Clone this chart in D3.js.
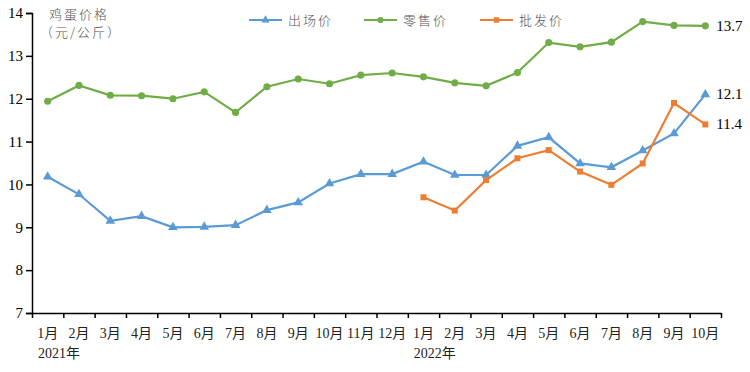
<!DOCTYPE html>
<html>
<head>
<meta charset="utf-8">
<script src="https://cdn.jsdelivr.net/npm/d3@7"></script>
<style>
  body { margin: 0; background: #fff; }
  .axis path, .axis line { stroke: #000; stroke-width: 1.5px; }
  .axis text { font-family: "Liberation Serif", "Noto Sans CJK SC", serif; font-size: 15px; fill: #000; }
  .month { font-family: "Liberation Serif", "Noto Sans CJK SC", serif; font-size: 14px; fill: #222; }
  .cjk { font-family: "Noto Sans CJK SC", sans-serif; font-size: 13px; font-weight: 300; fill: #555; letter-spacing: 2px; }
  .endlab { font-family: "Liberation Serif", serif; font-size: 15px; fill: #000; }
</style>
</head>
<body>
<div id="chart"></div>
<script>
// frame size and margins
const FRAME_WIDTH = 750;
const FRAME_HEIGHT = 372;
const MARGINS = {left: 32, right: 29, top: 13, bottom: 59};

// month labels, Jan 2021 .. Oct 2022
const months = ["1月","2月","3月","4月","5月","6月","7月","8月","9月","10月","11月","12月",
                "1月","2月","3月","4月","5月","6月","7月","8月","9月","10月"];
const years = [{label: "2021年", idx: 0}, {label: "2022年", idx: 12}];

// series values (元/公斤)
const chuchang = [10.18, 9.77, 9.15, 9.26, 9.0, 9.01, 9.05, 9.4, 9.58, 10.02, 10.24, 10.24,
                  10.53, 10.22, 10.22, 10.9, 11.1, 10.49, 10.4, 10.79, 11.19, 12.1];
const lingshou = [11.94, 12.31, 12.08, 12.07, 12.0, 12.16, 11.68, 12.28, 12.46, 12.35, 12.55, 12.6,
                  12.51, 12.37, 12.3, 12.61, 13.31, 13.21, 13.32, 13.8, 13.71, 13.7];
// wholesale starts Jan 2022
const pifa = [null, null, null, null, null, null, null, null, null, null, null, null,
              9.7, 9.39, 10.1, 10.61, 10.8, 10.3, 9.99, 10.49, 11.9, 11.4];
const yTicks = [7, 8, 9, 10, 11, 12, 13, 14];

const VIS_WIDTH = FRAME_WIDTH - MARGINS.left - MARGINS.right;
const VIS_HEIGHT = FRAME_HEIGHT - MARGINS.top - MARGINS.bottom;

const svg = d3.select("#chart").append("svg")
  .attr("width", FRAME_WIDTH)
  .attr("height", FRAME_HEIGHT);

// scales
const X_BAND = d3.scaleBand().domain(d3.range(months.length)).range([MARGINS.left, MARGINS.left + VIS_WIDTH]);
const X_EDGE = d3.scaleLinear().domain([0, months.length]).range([MARGINS.left, MARGINS.left + VIS_WIDTH]);
const Y_SCALE = d3.scaleLinear().domain([7, 14]).range([MARGINS.top + VIS_HEIGHT, MARGINS.top]);
const cx = (i) => X_BAND(i) + X_BAND.bandwidth() / 2;

// y axis
svg.append("g")
  .attr("class", "axis")
  .attr("transform", "translate(" + MARGINS.left + ",0)")
  .call(d3.axisLeft(Y_SCALE).tickValues(yTicks).tickFormat(d3.format("d")).tickSizeOuter(0).tickSize(6));

// x axis, ticks at month boundaries
svg.append("g")
  .attr("class", "axis")
  .attr("transform", "translate(0," + (MARGINS.top + VIS_HEIGHT) + ")")
  .call(d3.axisBottom(X_EDGE).tickValues(d3.range(months.length + 1)).tickFormat("").tickSize(5).tickSizeOuter(0));

// month labels
svg.selectAll(".month")
  .data(months)
  .enter()
  .append("text")
    .attr("class", "month")
    .attr("x", (d, i) => cx(i))
    .attr("y", 338)
    .attr("text-anchor", "middle")
    .text((d) => d);

svg.selectAll(".year")
  .data(years)
  .enter()
  .append("text")
    .attr("class", "month")
    .attr("x", (d) => X_BAND(d.idx) + 6)
    .attr("y", 358)
    .text((d) => d.label);

// axis title
svg.append("text").attr("class", "cjk").attr("x", 49).attr("y", 19).text("鸡蛋价格");
svg.append("text").attr("class", "cjk").attr("x", 40).attr("y", 37).text("（元/公斤）");

const series = [
  {name: "出场价", values: chuchang, color: "#5B9BD5", marker: d3.symbolTriangle},
  {name: "零售价", values: lingshou, color: "#70AD47", marker: d3.symbolCircle},
  {name: "批发价", values: pifa, color: "#ED7D31", marker: d3.symbolSquare}
];

const line = d3.line()
  .defined((d) => d != null)
  .x((d, i) => cx(i))
  .y((d) => Y_SCALE(d));

series.forEach((s) => {
  svg.append("path")
    .datum(s.values)
    .attr("fill", "none")
    .attr("stroke", s.color)
    .attr("stroke-width", 2.2)
    .attr("d", line);

  svg.selectAll(null)
    .data(s.values.map((v, i) => ({v: v, i: i})).filter((d) => d.v != null))
    .enter()
    .append("path")
      .attr("d", d3.symbol().type(s.marker).size(s.marker === d3.symbolSquare ? 36 : 40))
      .attr("transform", (d) => "translate(" + cx(d.i) + "," + Y_SCALE(d.v) + ")")
      .attr("fill", s.color);
});

// end labels
const last = months.length - 1;
[lingshou, chuchang, pifa].forEach((vals) => {
  svg.append("text")
    .attr("class", "endlab")
    .attr("x", cx(last) + 11)
    .attr("y", Y_SCALE(vals[last]) + 5)
    .text(vals[last].toFixed(1));
});

// legend
const legendX = [249, 364, 480];
series.forEach((s, k) => {
  const g = svg.append("g").attr("transform", "translate(" + legendX[k] + ",20)");
  g.append("line").attr("x1", 0).attr("x2", 33).attr("stroke", s.color).attr("stroke-width", 2.2);
  g.append("path")
    .attr("d", d3.symbol().type(s.marker).size(30))
    .attr("transform", "translate(16.5,0)")
    .attr("fill", s.color);
  g.append("text").attr("class", "cjk").attr("x", 39).attr("y", 5).text(s.name);
});
</script>
</body>
</html>
